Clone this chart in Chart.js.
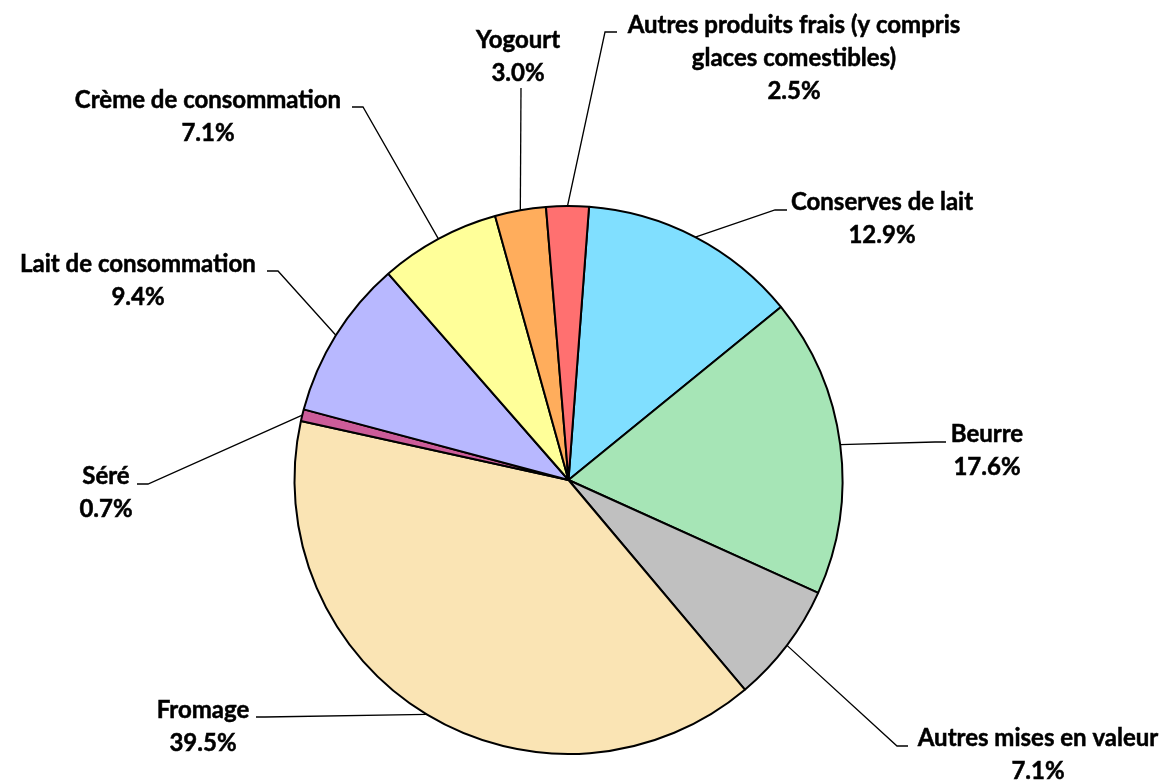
<!DOCTYPE html>
<html>
<head>
<meta charset="utf-8">
<script src="https://cdn.jsdelivr.net/npm/chart.js@4.4.1/dist/chart.umd.min.js"></script>
<style>
  html, body { margin: 0; padding: 0; background: #fff; }
  #wrap { width: 1170px; height: 782px; }
</style>
</head>
<body>
<div id="wrap"><canvas id="canvas" width="1170" height="782"></canvas></div>
<script>
var categories = ["Conserves de lait", "Beurre", "Autres mises en valeur", "Fromage", "Séré",
  "Lait de consommation", "Crème de consommation", "Yogourt",
  ["Autres produits frais (y compris", "glaces comestibles)"]];
var shares = [12.9, 17.6, 7.1, 39.5, 0.7, 9.4, 7.1, 3.0, 2.5];
var colors = ["#80dfff", "#a6e5b6", "#c0c0c0", "#fae4b4", "#cc5c99",
  "#b8b8ff", "#ffff99", "#ffad5c", "#ff7070"];

// where each label sits: text centre x, middle of first line y,
// elbow of the leader line, and x where the short tick ends
var labelPos = [
  {x: 882, y: 202, ex: 775, ey: 210, tx: 787},
  {x: 987, y: 434, ex: 935, ey: 442, tx: 946},
  {x: 1038, y: 738, ex: 897, ey: 746, tx: 908},
  {x: 203, y: 710, ex: 265, ey: 717, tx: 256},
  {x: 106, y: 476, ex: 148, ey: 484, tx: 137},
  {x: 138, y: 264, ex: 278, ey: 271, tx: 267},
  {x: 208, y: 100, ex: 363, ey: 107, tx: 352},
  {x: 518, y: 40, ex: 521, ey: 88, tx: 521},
  {x: 794, y: 25, ex: 605, ey: 32, tx: 617}
];

var lineGap = 33;
var labelFont = "bold 24px Lato";

var leaderLabels = {
  id: 'leaderLabels',
  afterDatasetsDraw: function (chart) {
    var ctx = chart.ctx;
    var meta = chart.getDatasetMeta(0);
    ctx.save();
    meta.data.forEach(function (arc, i) {
      var p = arc.getProps(['x', 'y', 'startAngle', 'endAngle', 'outerRadius'], true);
      var mid = (p.startAngle + p.endAngle) / 2;
      var sx = p.x + Math.cos(mid) * p.outerRadius;
      var sy = p.y + Math.sin(mid) * p.outerRadius;
      var pos = labelPos[i];

      ctx.strokeStyle = '#000';
      ctx.lineWidth = 1.3;
      ctx.beginPath();
      ctx.moveTo(sx, sy);
      ctx.lineTo(pos.ex, pos.ey);
      ctx.lineTo(pos.tx, pos.ey);
      ctx.stroke();

      var lines = [].concat(chart.data.labels[i]);
      lines.push(shares[i].toFixed(1) + '%');
      ctx.fillStyle = '#000';
      ctx.font = labelFont;
      ctx.textAlign = 'center';
      ctx.textBaseline = 'middle';
      ctx.lineWidth = 0.5;
      lines.forEach(function (t, k) {
        ctx.fillText(t, pos.x, pos.y + k * lineGap);
        ctx.strokeText(t, pos.x, pos.y + k * lineGap);
      });
    });
    ctx.restore();
  }
};

var ctx = document.getElementById("canvas").getContext("2d");
var chart = new Chart(ctx, {
  type: 'pie',
  data: {
    labels: categories,
    datasets: [{
      data: shares,
      backgroundColor: colors,
      borderColor: '#000',
      borderWidth: 2
    }]
  },
  options: {
    responsive: false,
    animation: false,
    rotation: 4.3,
    radius: 274,
    layout: { padding: { left: 0, right: 33, top: 178, bottom: 0 } },
    plugins: {
      legend: { display: false },
      tooltip: { enabled: false }
    }
  },
  plugins: [leaderLabels]
});
</script>
</body>
</html>
